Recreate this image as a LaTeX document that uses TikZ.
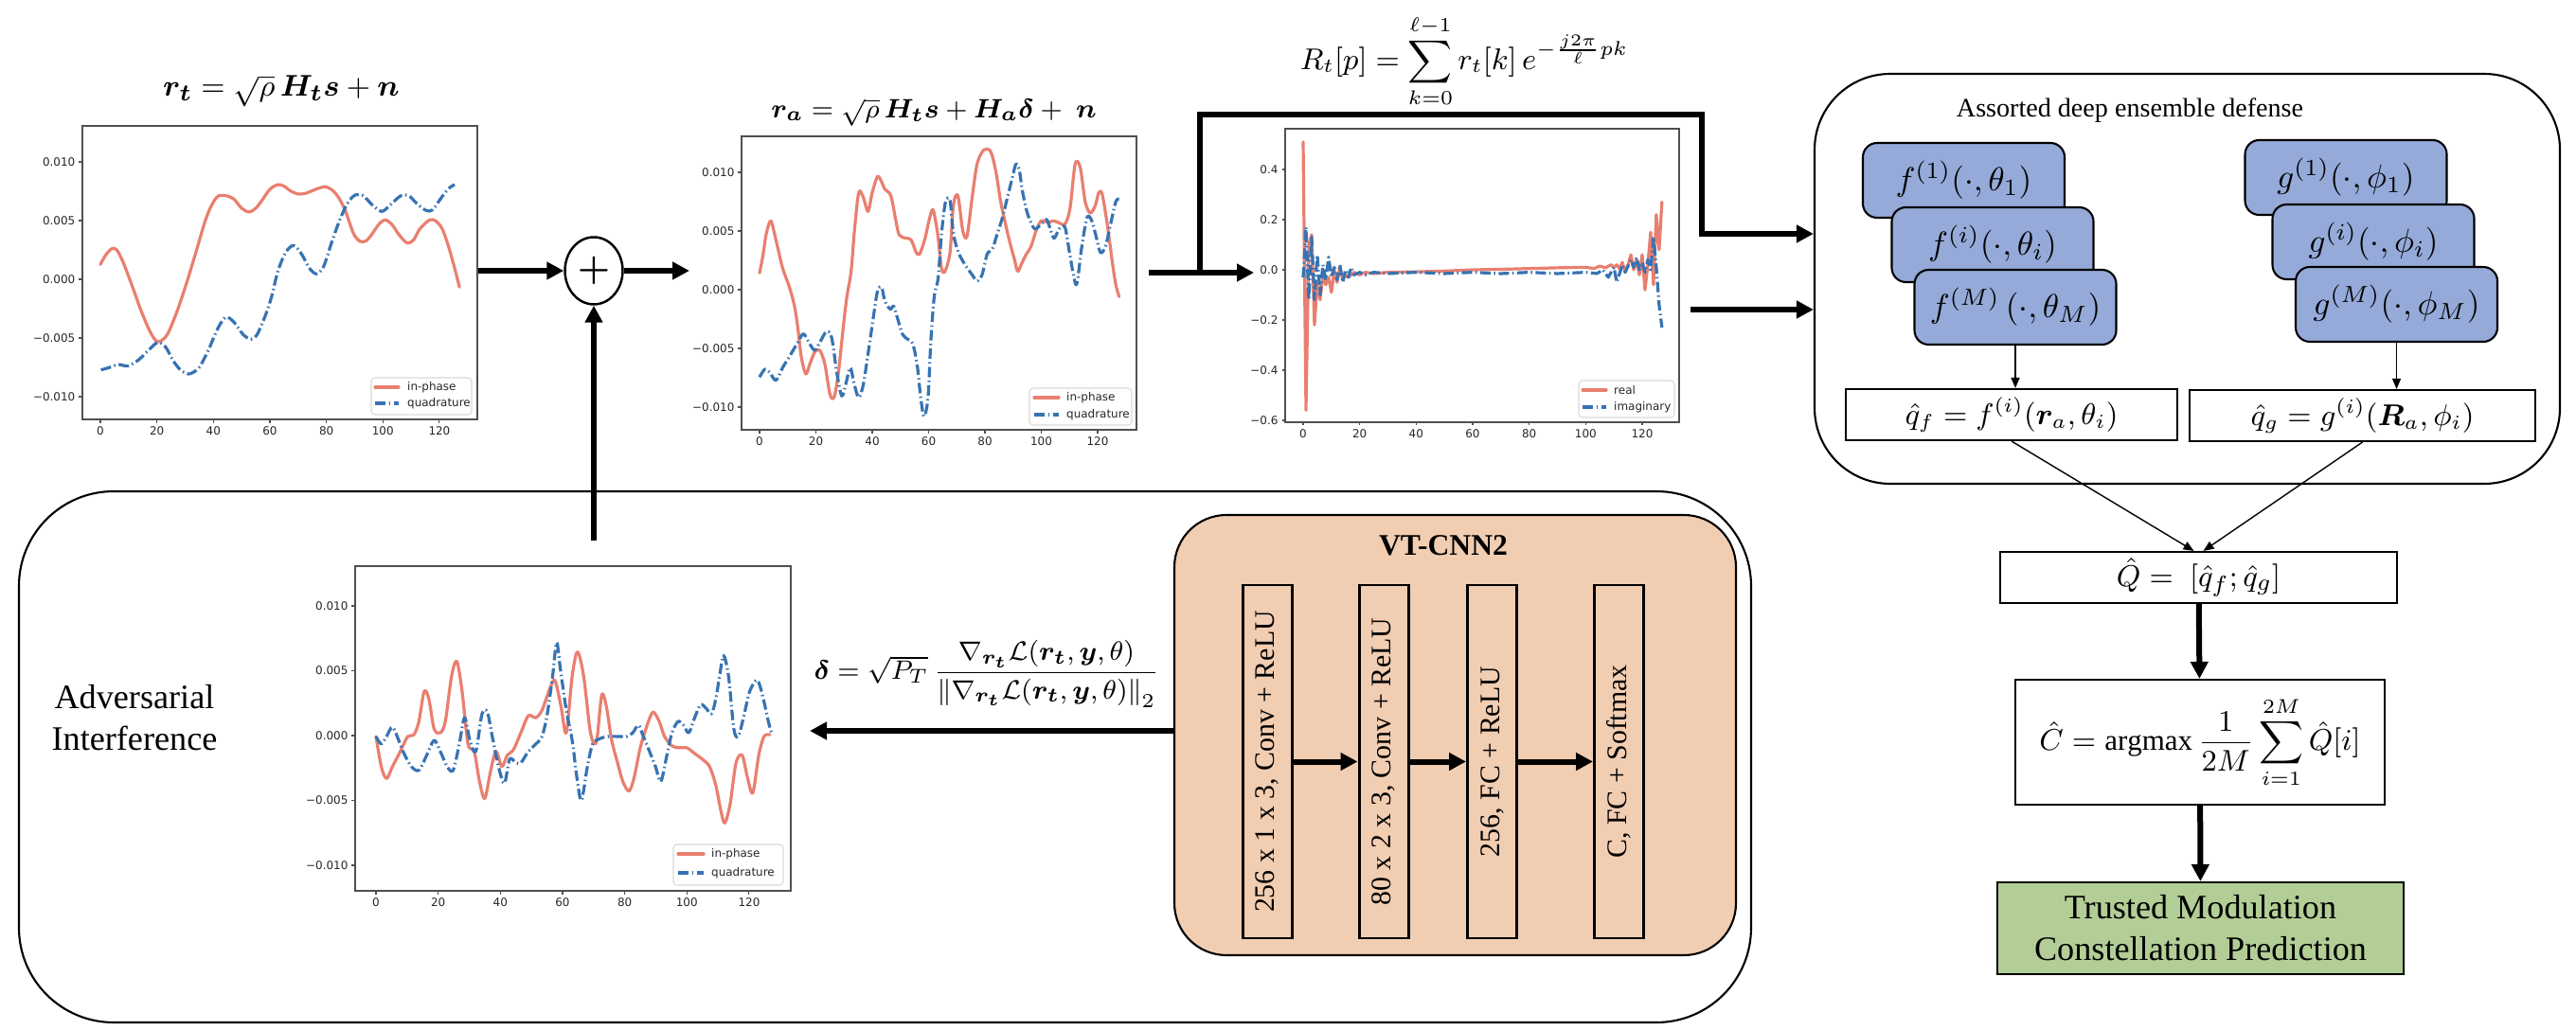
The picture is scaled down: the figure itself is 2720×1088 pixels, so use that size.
\documentclass[tikz,border=0pt]{standalone}
\usepackage{amsmath}
\usepackage{fontspec}
\setmainfont{Liberation Serif}
\newfontfamily\plotfont{DejaVu Sans}
\usepackage{bm}
\usetikzlibrary{arrows.meta,shapes.geometric,calc}

\definecolor{inphase}{RGB}{233,127,112}
\definecolor{quadr}{RGB}{55,115,178}
\definecolor{axgray}{RGB}{80,80,80}
\definecolor{ensblue}{RGB}{149,170,217}
\definecolor{cnnorange}{RGB}{241,205,178}
\definecolor{predgreen}{RGB}{178,206,150}

\begin{document}
\begin{tikzpicture}[x=0.1mm, y=-0.1mm,
  thickarrow/.style={arrows={-{Triangle[length=1.8mm,width=1.8mm]}}, line width=0.6mm},
  thinarrow/.style={arrows={-{Triangle[length=1.1mm,width=0.9mm]}}, line width=0.4pt},
  ticklbl/.style={font=\plotfont\fontsize{3.4}{4}\selectfont, inner sep=1pt, text=black!85},
  ipline/.style={inphase, line width=0.32mm, line join=round, line cap=round},
  qdline/.style={quadr, line width=0.32mm, line join=round, dash pattern=on 1.1mm off 0.35mm on 0.15mm off 0.35mm},
  legbox/.style={draw=black!15, line width=0.3pt, rounded corners=0.4mm, fill=white},
  eqbox/.style={draw, line width=0.6pt, inner sep=0pt},
  modelbox/.style={draw, line width=0.6pt, fill=ensblue, rounded corners=1.5mm, minimum width=21.3mm, minimum height=7.9mm, font=\fontsize{10}{12}\selectfont},
  layerbox/.style={draw, line width=0.85pt, rotate=90, minimum width=37.3mm, minimum height=5.2mm, inner sep=0pt, font=\fontsize{8.5}{10}\selectfont}]
\useasboundingbox (0,0) rectangle (2720,1088);

%big frames
\node[draw, line width=0.6pt, rounded corners=10mm, minimum width=182.9mm, minimum height=56.1mm] (adv) at (934.5,799.5) {};
\node[draw, line width=0.6pt, rounded corners=8mm, minimum width=78.7mm, minimum height=43.3mm] (ens) at (2309.5,294.5) {};
\node[draw, line width=0.6pt, fill=cnnorange, rounded corners=5.5mm, minimum width=59.3mm, minimum height=46.5mm] (cnn) at (1536.5,776.5) {};

%received signal r_t
\node (rt eq) at (297,96) {\fontsize{9.4}{11}\selectfont $\bm{r_t} = \sqrt{\rho}\,\bm{H_t s} + \bm{n}$};
\begin{scope}[shift={(106,295)}, x=0.2983mm, y=1.24mm]
  \draw[ipline] plot[smooth, tension=0.5] coordinates {(0,1.27)(1.9,2.07)(4.1,2.61)(5.8,2.5)(8,1.48)(11.4,-0.67)(14.2,-2.55)(17,-4.17)(19.2,-5.11)(20.9,-5.32)(23.7,-4.7)(27,-2.82)(30.4,-0.4)(33.8,2.29)(37.1,4.97)(39.4,6.32)(41.6,7.07)(44.4,7.12)(47.2,6.85)(50,6.05)(52.7,5.73)(55,6.05)(57.2,6.72)(60,7.66)(62.8,8.06)(65,7.93)(67.3,7.53)(70.1,7.26)(72.9,7.34)(76.2,7.66)(79.6,7.88)(82.4,7.53)(84.6,6.85)(86.8,5.78)(89.6,3.9)(91.9,3.23)(94.1,3.28)(96.3,3.9)(98.6,4.7)(100.8,5.05)(103.1,4.7)(105.8,3.76)(108.6,3.09)(110.9,3.36)(113.1,4.3)(116.5,5.05)(118.7,4.97)(121,4.3)(123.2,2.82)(125.4,0.94)(127.1,-0.67)};
  \draw[qdline] plot[smooth, tension=0.5] coordinates {(0.2,-7.72)(3,-7.53)(6.4,-7.26)(9.7,-7.39)(13.6,-6.85)(17,-6.05)(20.3,-5.38)(23.1,-5.78)(25.9,-6.99)(28.7,-7.8)(31.5,-8.06)(34.9,-7.53)(38.2,-6.05)(41.6,-4.17)(44.4,-3.23)(47.2,-3.63)(50.5,-4.7)(53.3,-5.11)(55.5,-4.7)(58.4,-3.09)(60.6,-1.48)(62.8,0.67)(65.6,2.29)(68.4,2.88)(71.2,2.15)(74,0.94)(76.5,0.46)(79,1.08)(81.8,3.09)(84.6,4.97)(87.4,6.45)(90.2,7.18)(93,7.12)(96.3,6.32)(99.7,5.78)(103.1,6.45)(106.4,7.12)(109.2,7.12)(112,6.45)(115.3,5.86)(117.6,5.91)(120.4,6.85)(123.2,7.72)(125.4,8.06)};
  \foreach \v/\lab [count=\i] in {10/0.010,5/0.005,0/0.000,-5/−0.005,-10/−0.010}
    \draw[axgray, line width=0.3pt] (-6.37,\v) -- (-7.6,\v) node[left, ticklbl] (p1y\i) {\lab};
  \foreach \t in {0,20,...,120}
    \draw[axgray, line width=0.3pt] (\t,-11.94) -- (\t,-12.22) node[below, ticklbl] (p1x\t) {\t};
\end{scope}
\node[draw=axgray, line width=0.35pt, minimum width=41.7mm, minimum height=31mm] (ax1) at (295.5,288) {};
\node[legbox, minimum width=10.6mm, minimum height=3.9mm] (leg1) at (445,418.5) {};
\draw[ipline] (396,409) -- (421,409);
\draw[qdline] (396,426) -- (421,426);
\node[ticklbl, anchor=west] (leg1a) at (426,409) {in-phase};
\node[ticklbl, anchor=west] (leg1b) at (426,426) {quadrature};

%adder
\node[draw, ellipse, line width=0.7pt, minimum width=6.1mm, minimum height=7.1mm, inner sep=0pt] (sum) at (627,286) {\fontsize{11}{11}\selectfont$\bm{+}$};

%attacked signal r_a
\node (ra eq) at (986,119) {\fontsize{8.5}{10}\selectfont $\bm{r_a} = \sqrt{\rho}\,\bm{H_t s} + \bm{H_a\delta} + \ \bm{n}$};
\begin{scope}[shift={(802,306)}, x=0.2975mm, y=1.24mm]
  \draw[ipline] plot[smooth, tension=0.5] coordinates {(0,1.43)(1.2,2.9)(2.4,4.78)(4,5.86)(5.8,4.25)(8.2,1.83)(10.6,0.22)(12.4,-1.4)(13.6,-3.28)(14.8,-5.7)(16.4,-7.18)(17.8,-6.37)(19.6,-5.3)(21.4,-5.16)(23.2,-6.37)(25,-8.92)(26.5,-9.14)(28,-7.04)(29.8,-3.01)(31,-0.59)(32.5,1.56)(33.7,5.06)(35.2,8.28)(36.8,7.88)(38.5,6.67)(40,8.28)(41.8,9.62)(43,9.35)(44.5,8.55)(46.6,8.01)(48.4,5.86)(49.6,4.65)(52,4.38)(53.8,4.25)(55.6,3.17)(56.8,3.04)(58.6,4.25)(60.4,6.13)(61.6,6.8)(63.2,4.78)(64.6,1.83)(65.8,1.56)(67.6,3.17)(68.8,7.2)(70.4,8.01)(72.1,5.06)(73.6,4.52)(75.4,7.74)(77.2,10.7)(79.6,11.91)(82,11.77)(83.8,10.16)(85.6,7.47)(86.8,6.13)(88.6,4.25)(90.4,2.64)(91.6,1.56)(92.8,2.1)(94.4,2.9)(96.4,3.71)(98.2,5.06)(100,5.86)(102.4,5.73)(104.2,5.86)(106,5.73)(108.4,5.59)(110.2,6.94)(112,10.7)(113.8,10.43)(115.6,7.47)(117.4,6.53)(119.2,7.2)(120.4,8.28)(121.6,8.15)(123.4,5.59)(125.2,2.36)(126.4,0.48)(127.6,-0.59)};
  \draw[qdline] plot[smooth, tension=0.5] coordinates {(0,-7.45)(1.9,-6.77)(3.6,-7.04)(5.8,-7.72)(8.2,-6.64)(10.6,-5.7)(13.6,-4.49)(15.6,-3.76)(17.8,-4.62)(19.6,-5.16)(21.4,-4.49)(23.8,-3.55)(25.6,-4.09)(27.4,-7.04)(29.2,-9.06)(30.8,-7.85)(32.2,-6.64)(33.7,-8.12)(35.2,-9.19)(36.8,-8.12)(38.2,-5.97)(40,-3.01)(41.8,-0.19)(43.3,0.22)(44.5,-0.99)(46.4,-1.67)(47.6,-1.4)(49,-2.47)(50.8,-3.82)(52.6,-4.22)(54.4,-4.62)(56,-6.51)(57.2,-9.19)(58.4,-10.8)(59.8,-9.19)(60.8,-4.35)(62,-0.59)(63.4,1.02)(64.6,4.78)(66,7.47)(67.6,7.6)(68.8,4.78)(70.6,3.17)(73,2.1)(75.4,1.29)(77.2,0.75)(79,1.29)(80.8,3.04)(82.6,3.44)(84.4,4.78)(86.2,6.13)(88,7.88)(89.8,9.62)(91,10.7)(92.2,10.16)(93.4,8.28)(95.2,6.4)(97.6,5.19)(100,5.59)(101.8,5.99)(103,5.32)(104.5,4.38)(106.4,5.19)(108.4,5.32)(110,3.17)(111.4,1.29)(112.6,0.48)(114.4,3.71)(116.2,6.13)(117.7,5.99)(119.2,4.78)(121,3.17)(122.8,3.71)(124.6,5.59)(126.4,7.47)(127.6,7.74)};
  \foreach \v/\lab [count=\i] in {10/0.010,5/0.005,0/0.000,-5/−0.005,-10/−0.010}
    \draw[axgray, line width=0.3pt] (-6.39,\v) -- (-7.6,\v) node[left, ticklbl] (p2y\i) {\lab};
  \foreach \t in {0,20,...,120}
    \draw[axgray, line width=0.3pt] (\t,-11.94) -- (\t,-12.22) node[below, ticklbl] (p2x\t) {\t};
\end{scope}
\node[draw=axgray, line width=0.35pt, minimum width=41.7mm, minimum height=31mm] (ax2) at (991.5,299) {};
\node[legbox, minimum width=10.8mm, minimum height=3.9mm] (leg2) at (1141,429.5) {};
\draw[ipline] (1092,420) -- (1118,420);
\draw[qdline] (1092,438) -- (1118,438);
\node[ticklbl, anchor=west] (leg2a) at (1122,420) {in-phase};
\node[ticklbl, anchor=west] (leg2b) at (1122,438) {quadrature};

%DFT of the received signal
\node (dft eq) at (1546,65) {\fontsize{8.8}{11}\selectfont $\displaystyle R_t[p] = \sum_{k=0}^{\ell-1} r_t[k]\, e^{-\frac{j2\pi}{\ell}pk}$};
\begin{scope}[shift={(1376,285)}, x=0.2983mm, y=0.265mm]
  \draw[ipline] plot coordinates {(0,51)(1,-56)(2,10)(3,14)(4,-22)(5,-5)(6,-12)(7,-2)(8,-6)(9,-3)(10,-9)(11,0)(12,-5)(13,1)(14,-4)(15,-2)(16,-3)(18,-1)(20,-2)(22,-1)(25,-1.5)(30,-1)(40,-0.8)(50,-0.5)(60,0)(70,0.2)(80,0.5)(90,0.8)(100,1)(103,0.5)(105,1.5)(107,0.8)(109,2)(110,1)(111,2)(112,0.5)(113,3)(114,-1)(115,2)(116,6)(117,0)(118,4)(119,-2)(120,6)(121,-8)(122,2)(123,15)(124,-6)(125,22)(126,8)(127,27)};
  \draw[qdline] plot coordinates {(0,-3)(1,17)(2,-12)(3,13)(4,-12)(5,6)(6,-10)(7,2)(8,-4)(9,5)(10,-3)(11,1)(12,-4)(13,2)(14,-5)(15,0)(16,-3)(17,1)(18,-2)(20,-1)(22,-2)(25,-1)(30,-1.5)(40,-1)(50,-1.5)(60,-1)(70,-1.5)(80,-1)(90,-1.5)(100,-1)(104,-1.5)(106,0)(108,-3)(110,1)(111,-5)(113,2)(114,-1)(116,4)(117,1)(118,5)(119,0)(120,3)(121,-1)(122,4)(123,0)(124,13)(125,1)(126,-14)(127,-23)};
  \foreach \v/\lab [count=\i] in {40/0.4,20/0.2,0/0.0,-20/−0.2,-40/−0.4,-60/−0.6}
    \draw[axgray, line width=0.3pt] (-6.37,\v) -- (-7.55,\v) node[left, ticklbl] (p3y\i) {\lab};
  \foreach \t in {0,20,...,120}
    \draw[axgray, line width=0.3pt] (\t,-60.75) -- (\t,-62.07) node[below, ticklbl] (p3x\t) {\t};
\end{scope}
\node[draw=axgray, line width=0.35pt, minimum width=41.6mm, minimum height=31mm] (ax3) at (1565,291) {};
\node[legbox, minimum width=10.1mm, minimum height=3.9mm] (leg3) at (1717.5,421.5) {};
\draw[ipline] (1671,412) -- (1696,412);
\draw[qdline] (1671,430) -- (1696,430);
\node[ticklbl, anchor=west] (leg3a) at (1700,412) {real};
\node[ticklbl, anchor=west] (leg3b) at (1700,430) {imaginary};

%assorted deep ensemble
\node[font=\fontsize{8}{9.6}\selectfont] (ens title) at (2249,117) {Assorted deep ensemble defense};
\node[modelbox] (f1) at (2073.5,190.5) {$f^{(1)}(\cdot,\theta_1)$};
\node[modelbox] (fi) at (2104,258.5) {$f^{(i)}(\cdot,\theta_i)$};
\node[modelbox] (fM) at (2128,324.5) {$f^{(M)}\,(\cdot,\theta_M)$};
\node[modelbox] (g1) at (2477,187.5) {$g^{(1)}(\cdot,\phi_1)$};
\node[modelbox] (gi) at (2506,255.5) {$g^{(i)}(\cdot,\phi_i)$};
\node[modelbox] (gM) at (2530.5,321.5) {$g^{(M)}(\cdot,\phi_M)$};
\node[eqbox, minimum width=35mm, minimum height=5.4mm, font=\fontsize{9}{11}\selectfont] (qf) at (2124,438) {$\hat{q}_f = f^{(i)}(\bm{r}_a,\theta_i)$};
\node[eqbox, minimum width=36.5mm, minimum height=5.4mm, font=\fontsize{9}{11}\selectfont] (qg) at (2494.5,439) {$\hat{q}_g = g^{(i)}(\bm{R}_a,\phi_i)$};
\draw[thinarrow] (fM.south) -- (fM.south |- qf.north);
\draw[thinarrow] (gM.south) -- (gM.south |- qg.north);

%fusion and decision
\node[eqbox, minimum width=41.9mm, minimum height=5.4mm, font=\fontsize{9.3}{11}\selectfont] (Q) at (2321.5,610) {$\hat{Q} =\ [\hat{q}_f;\hat{q}_g]$};
\node[eqbox, minimum width=39mm, minimum height=13.2mm, font=\fontsize{8.8}{10.5}\selectfont] (C) at (2323,784) {$\hat{C} = \operatorname{argmax}\dfrac{1}{2M}\displaystyle\sum_{i=1}^{2M}\hat{Q}[i]$};
\node[draw, line width=0.6pt, fill=predgreen, minimum width=42.9mm, minimum height=9.7mm, align=center, font=\fontsize{10.3}{12.5}\selectfont] (pred) at (2323.5,980.5) {Trusted Modulation\\Constellation Prediction};
\draw[thinarrow] (qf.south) -- ($(Q.north)+(-5,0)$);
\draw[thinarrow] (qg.south) -- ($(Q.north)+(5,0)$);
\draw[thickarrow] (Q) -- (C);
\draw[thickarrow] (C) -- (pred);

%adversarial perturbation
\node[align=center, font=\fontsize{10.3}{12.5}\selectfont] (adv label) at (142,758) {Adversarial\\Interference};
\begin{scope}[shift={(397,777)}, x=0.3283mm, y=1.37mm]
  \draw[ipline] plot[smooth, tension=0.5] coordinates {(0,-0.07)(1.7,-2.39)(3.4,-3.32)(5.3,-2.39)(7.8,-1.23)(10.2,-0.07)(12.2,0.07)(13.8,1.09)(15.5,3.41)(17,2.83)(18.7,0.51)(20.7,0.22)(22.3,1.09)(24.3,4.57)(26,5.73)(27.7,3.41)(29.6,-0.65)(31.6,-1.23)(33.3,-3.55)(35,-4.85)(36.9,-2.68)(38.6,-1.23)(40.5,-2.39)(42.2,-1.52)(44.2,-1.09)(46.6,0.22)(49,1.53)(51.4,1.38)(53.4,1.96)(55.6,3.41)(57.5,4.28)(59.5,2.25)(61.2,0.22)(63.1,4.57)(64.8,6.46)(66.8,4.57)(69,0.22)(70.9,-0.5)(72.6,3.12)(74.1,2.25)(75.8,-0.36)(77.7,-2.1)(79.4,-3.55)(81.4,-4.28)(83,-3.26)(85,-0.94)(87.2,0.8)(89.1,1.82)(91.1,1.09)(92.8,-0.07)(95.2,-0.8)(97.6,-0.94)(100,-0.94)(102.5,-1.38)(104.9,-1.81)(107.3,-2.39)(109.3,-3.84)(111,-5.87)(112.2,-6.74)(113.9,-5.29)(115.8,-2.1)(117.8,-1.52)(119.5,-3.26)(121.2,-4.42)(123.1,-1.52)(124.8,-0.07)(126.7,0.07)};
  \draw[qdline] plot[smooth, tension=0.5] coordinates {(0,-0.07)(1.7,-0.65)(3.4,-0.07)(5.3,0.66)(7.3,-0.36)(9,-1.38)(11.4,-2.39)(13.8,-2.68)(16.3,-1.52)(18.7,-0.36)(20.7,-1.23)(22.9,-2.39)(24.8,-2.68)(26.8,-0.65)(28.5,1.38)(30.2,-0.36)(32.1,-1.23)(34.1,1.67)(35.8,1.82)(37.4,-0.07)(39.4,-2.39)(41.3,-3.69)(43,-1.81)(45,-2.1)(46.6,-2.1)(49,-1.23)(51.4,-0.65)(53.4,-0.07)(55.1,1.67)(56.8,4.57)(58.1,7.18)(59.3,5.15)(61.2,1.96)(63.1,-0.36)(64.8,-3.55)(66.1,-5)(68,-2.39)(69.7,-0.65)(72.2,-0.22)(74.6,-0.07)(78.3,-0.07)(80.7,-0.07)(82.6,0.22)(84.4,0.8)(86,-0.07)(88,-1.23)(89.9,-2.39)(91.6,-3.55)(93.3,-1.81)(95.2,0.22)(97.2,1.09)(98.9,0.8)(100.6,0.22)(102.5,1.38)(104.4,2.39)(106.2,2.1)(107.9,1.67)(109.3,2.83)(110.5,4.57)(111.8,6.17)(113.4,4.57)(115.1,0.51)(116.5,-0.07)(118.2,1.38)(120.2,3.41)(122.6,4.28)(124.3,3.12)(126.2,1.09)(127.2,0.22)};
  \foreach \v/\lab [count=\i] in {10/0.010,5/0.005,0/0.000,-5/−0.005,-10/−0.010}
    \draw[axgray, line width=0.3pt] (-6.7,\v) -- (-7.77,\v) node[left, ticklbl] (p4y\i) {\lab};
  \foreach \t in {0,20,...,120}
    \draw[axgray, line width=0.3pt] (\t,-11.97) -- (\t,-12.23) node[below, ticklbl] (p4x\t) {\t};
\end{scope}
\node[draw=axgray, line width=0.35pt, minimum width=46mm, minimum height=34.3mm] (ax4) at (605,769.5) {};
\node[legbox, minimum width=11.6mm, minimum height=4.3mm] (leg4) at (769,913.5) {};
\draw[ipline] (716,902) -- (743,902);
\draw[qdline] (716,922) -- (743,922);
\node[ticklbl, anchor=west] (leg4a) at (747,902) {in-phase};
\node[ticklbl, anchor=west] (leg4b) at (747,922) {quadrature};
\node (delta eq) at (1042,712) {\fontsize{8.3}{10}\selectfont $\bm{\delta} = \sqrt{P_T}\,\dfrac{\nabla_{\bm{r_t}}\mathcal{L}(\bm{r_t},\bm{y},\theta)}{\left\|\nabla_{\bm{r_t}}\mathcal{L}(\bm{r_t},\bm{y},\theta)\right\|_2}$};

%VT-CNN2 layers
\node[font=\bfseries\fontsize{9}{10}\selectfont] (cnn title) at (1524,576) {VT-CNN2};
\node[layerbox] (L1) at (1338,804.5) {256 x 1 x 3, Conv + ReLU};
\node[layerbox] (L2) at (1461,804.5) {80 x 2 x 3, Conv + ReLU};
\node[layerbox] (L3) at (1575.5,804.5) {256, FC + ReLU};
\node[layerbox] (L4) at (1709.5,804.5) {C, FC + Softmax};
\draw[thickarrow] (L1) -- (L2);
\draw[thickarrow] (L2) -- (L3);
\draw[thickarrow] (L3) -- (L4);

%signal flow
\coordinate (ra in) at (728,286);
\coordinate (adv out) at (627,571);
\coordinate (ra out) at (1213,288);
\coordinate (split) at (1267,288);
\coordinate (dft in) at (1324,288);
\coordinate (dft top) at (1797,121);
\coordinate (fft out) at (1785,327);
\coordinate (delta tip) at (855,772);
\draw[thickarrow] (ax1.east |- sum) -- (sum);
\draw[thickarrow] (sum) -- (ra in);
\draw[thickarrow] (adv out) -- (sum);
\draw[thickarrow] (ra out) -- (dft in);
\draw[thickarrow] (split) |- (dft top) |- ($(ens.west)+(0,-47.5)$);
\draw[thickarrow] (fft out) -- (fft out -| ens.west);
\draw[thickarrow] (cnn.west |- delta tip) -- (delta tip);

\end{tikzpicture}
\end{document}
